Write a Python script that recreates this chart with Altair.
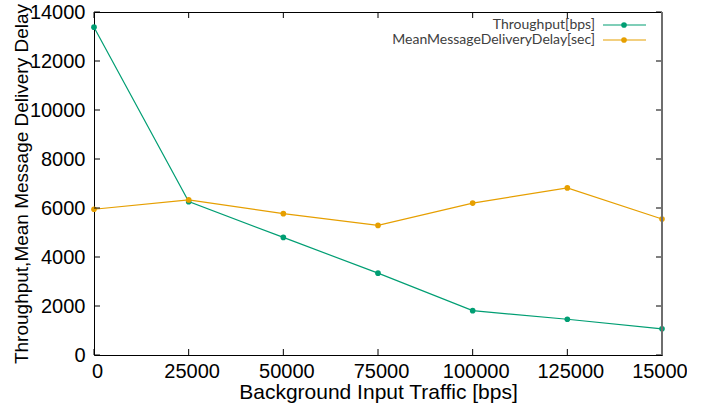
import altair as alt
import pandas as pd

# ---- data ----
traffic = [0, 25000, 50000, 75000, 100000, 125000, 150000]
throughput = [13380, 6260, 4800, 3340, 1810, 1460, 1070]
delay = [5950, 6330, 5770, 5290, 6200, 6820, 5550]
series_names = ["Throughput[bps]", "MeanMessageDeliveryDelay[sec]"]
series_colors = ["#009e73", "#e69f00"]
x_ticks = [0, 25000, 50000, 75000, 100000, 125000, 150000]
y_ticks = [0, 2000, 4000, 6000, 8000, 10000, 12000, 14000]

rows = []
for name, vals in zip(series_names, [throughput, delay]):
    for t, v in zip(traffic, vals):
        rows.append({"traffic": t, "value": v, "series": name})
df = pd.DataFrame(rows)
xt = pd.DataFrame({"traffic": x_ticks})
yt = pd.DataFrame({"v": y_ticks})
leg = pd.DataFrame({"series": series_names})

W, H = 568, 343
TICK = 6
FONT = "Liberation Sans"

xscale = alt.Scale(domain=[0, 150000], nice=False, zero=False)
yscale = alt.Scale(domain=[0, 14000], nice=False)
color = alt.Color("series:N", scale=alt.Scale(domain=series_names, range=series_colors), legend=None)

x_axis = alt.Axis(values=x_ticks, format="d", labelFont=FONT, labelFontSize=20, labelColor="#000",
                  tickSize=0, labelPadding=6, labelFlush=False, labelOverlap=False, labelOffset=3,
                  domain=False, grid=False, title="Background Input Traffic [bps]",
                  titleFont=FONT, titleFontSize=21, titleFontWeight="normal", titleColor="#000",
                  titleX=W / 2, titleY=43, titleBaseline="alphabetic")
y_axis = alt.Axis(values=y_ticks, format="d", labelFont=FONT, labelFontSize=20, labelColor="#000",
                  tickSize=0, labelPadding=9, labelFlush=False, labelOverlap=False,
                  labelBaseline="middle", domain=False, grid=False,
                  title="Throughput,Mean Message Delivery Delay",
                  titleFont=FONT, titleFontSize=19, titleFontWeight="normal", titleColor="#000",
                  titleX=-67, titleY=H / 2, titleAngle=270, titleAlign="center",
                  titleBaseline="alphabetic")

xenc = alt.X("traffic:Q", scale=xscale, axis=x_axis, title="Background Input Traffic [bps]")

lines = alt.Chart(df).mark_line(strokeWidth=1.2).encode(
    x=xenc,
    y=alt.Y("value:Q", scale=yscale, axis=y_axis),
    color=color,
)
points = alt.Chart(df).mark_circle(size=32, opacity=1).encode(
    x=xenc,
    y=alt.Y("value:Q", scale=yscale, axis=None),
    color=color,
)

yq = alt.Y("v:Q", scale=yscale, axis=None)
tb = alt.Chart(xt).mark_rule(color="#000", strokeWidth=1).encode(x=xenc, y=alt.value(H), y2=alt.value(H - TICK))
tt = alt.Chart(xt).mark_rule(color="#000", strokeWidth=1).encode(x=xenc, y=alt.value(0), y2=alt.value(TICK))
tl = alt.Chart(yt).mark_rule(color="#000", strokeWidth=1).encode(y=yq, x=alt.value(0), x2=alt.value(TICK))
tr = alt.Chart(yt).mark_rule(color="#000", strokeWidth=1).encode(y=yq, x=alt.value(W), x2=alt.value(W - TICK))
right_edge = alt.Chart(yt).mark_rule(color="#6e6e6e", strokeWidth=2).encode(
    x=alt.value(W), y=alt.value(0), y2=alt.value(H))

ly = alt.Y("series:N", scale=alt.Scale(type="point", domain=series_names, range=[13, 28], padding=0), axis=None)
leg_text = alt.Chart(leg).mark_text(align="right", baseline="middle", font="Lato", fontSize=14,
                                    color="#404040").encode(
    x=alt.value(501), y=ly, text="series:N")
leg_rule = alt.Chart(leg).mark_rule(strokeWidth=1.2).encode(
    x=alt.value(509), x2=alt.value(552), y=ly, color=color)
leg_pt = alt.Chart(leg).mark_circle(size=32, opacity=1).encode(
    x=alt.value(530), y=ly, color=color)

chart = alt.layer(lines, points, tb, tt, tl, tr, right_edge, leg_text, leg_rule, leg_pt).resolve_scale(
    y="independent"
).properties(
    width=W, height=H,
    padding={"left": 94, "top": 12, "right": 25, "bottom": 52},
    autosize=alt.AutoSizeParams(type="none"),
    background="white",
).configure_view(stroke="#000", strokeWidth=1)

chart.save("out.html", embed_options={"renderer": "svg", "actions": False})
